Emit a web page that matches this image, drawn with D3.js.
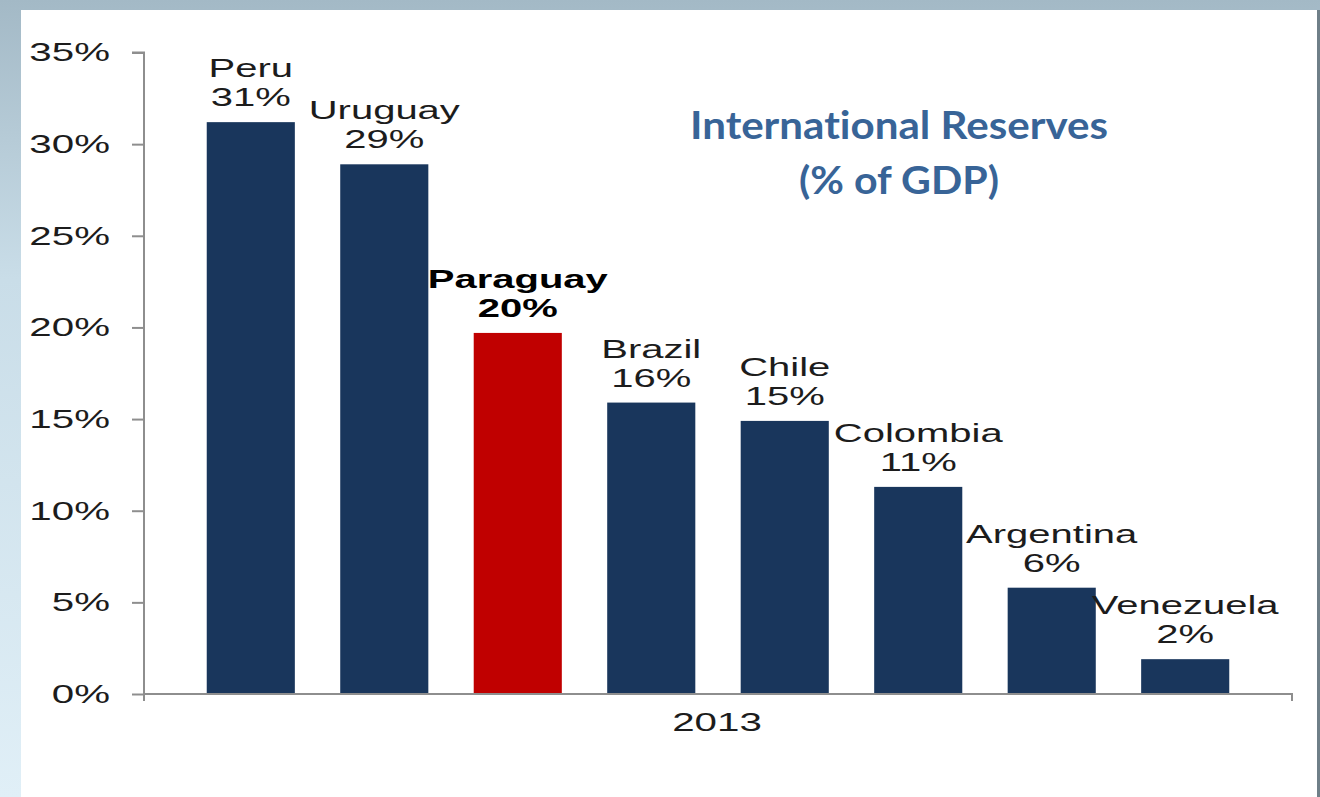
<!DOCTYPE html>
<html><head><meta charset="utf-8">
<script src="https://cdn.jsdelivr.net/npm/d3@7"></script>
<style>html,body{margin:0;padding:0;overflow:hidden;background:#fff} text{font-variant-ligatures:none}</style>
</head><body>
<svg id="c" width="1320" height="797"></svg>
<script>
const countries = ["Peru","Uruguay","Paraguay","Brazil","Chile","Colombia","Argentina","Venezuela"];
const values = [31.2, 28.9, 19.7, 15.9, 14.9, 11.3, 5.8, 1.9];
const labels = ["31%","29%","20%","16%","15%","11%","6%","2%"];
const highlight = ["Paraguay"];
const yTicks = [0,5,10,15,20,25,30,35];
const xCategory = "2013";
const titleLines = ["International Reserves","(% of GDP)"];

const svg = d3.select("#c");
const defs = svg.append("defs");
const g1 = defs.append("linearGradient").attr("id","bg").attr("x1",0).attr("y1",0).attr("x2",0).attr("y2",1);
g1.append("stop").attr("offset","0%").attr("stop-color","#a3b9c6");
g1.append("stop").attr("offset","35%").attr("stop-color","#c9dde8");
g1.append("stop").attr("offset","100%").attr("stop-color","#e0eff7");
svg.append("rect").attr("width",1320).attr("height",797).attr("fill","url(#bg)");
svg.append("rect").attr("x",1316).attr("y",10).attr("width",4).attr("height",787).attr("fill","#6f7f88");
svg.append("rect").attr("x",21).attr("y",10).attr("width",1296).attr("height",787).attr("fill","#ffffff");

const SX = 1.55;
const FS = 26;
const LFS = 25, LSX = 1.6, LINE = 29;
const x = d3.scaleBand().domain(countries).range([144,1292]).paddingInner(0.34).paddingOuter(0.47);
const y = d3.scaleLinear().domain([0,35]).range([694,52.5]);

// bars
svg.append("g").selectAll("rect").data(countries).join("rect")
  .attr("x", d => x(d)).attr("width", x.bandwidth())
  .attr("y", (d,i) => y(values[i])).attr("height", (d,i) => y(0) - y(values[i]))
  .attr("fill", d => highlight.includes(d) ? "#c00000" : "#19365c");

// y axis
const yAxis = svg.append("g").attr("transform","translate(144,0)")
  .call(d3.axisLeft(y).tickValues(yTicks).tickSize(12).tickPadding(22).tickFormat(d => d + "%"));
yAxis.select(".domain").attr("stroke","#8e8e8e").attr("stroke-width",2).attr("d","M-12,52.5H0V701");
yAxis.selectAll(".tick line").attr("stroke","#8e8e8e").attr("stroke-width",2);
yAxis.selectAll(".tick text")
  .attr("font-family","Liberation Sans, Arial, sans-serif").attr("font-size",FS).attr("fill","#1c1c1c")
  .attr("x", -34/SX).attr("transform",`scale(${SX},1)`);

// x axis
svg.append("path").attr("d","M144,694H1292V701").attr("fill","none").attr("stroke","#8e8e8e").attr("stroke-width",2);
svg.append("text").attr("transform",`translate(717,731) scale(${SX},1)`)
  .attr("text-anchor","middle").attr("font-family","Liberation Sans, Arial, sans-serif").attr("font-size",FS).attr("fill","#1c1c1c")
  .text(xCategory);

// bar labels: one text per bar, name + value on two lines
svg.append("g").selectAll("text").data(countries).join("text")
  .attr("transform", (d,i) => `translate(${x(d) + x.bandwidth()/2},${y(values[i]) - 16 - LINE}) scale(${LSX},1)`)
  .attr("text-anchor","middle").attr("font-family","Liberation Sans, Arial, sans-serif")
  .attr("font-size",LFS)
  .attr("font-weight", d => highlight.includes(d) ? "bold" : "normal")
  .attr("fill", d => highlight.includes(d) ? "#000" : "#1c1c1c")
  .each(function(d,i){
    const t = d3.select(this);
    t.append("tspan").attr("x",0).attr("y",0).text(d);
    t.append("tspan").attr("x",0).attr("y",LINE).text(labels[i]);
  });

// title
const tw = [418, 200];
const tb = [139, 194];
titleLines.forEach((t,i) => {
  svg.append("text").attr("x",899).attr("y",tb[i]).attr("text-anchor","middle")
    .attr("font-family","Lato, 'Open Sans', sans-serif").attr("font-weight","bold").attr("font-size",39)
    .style("font-variant-ligatures","none")
    .attr("fill","#386497").attr("textLength",tw[i]).attr("lengthAdjust","spacingAndGlyphs").text(t);
});
</script>
</body></html>
